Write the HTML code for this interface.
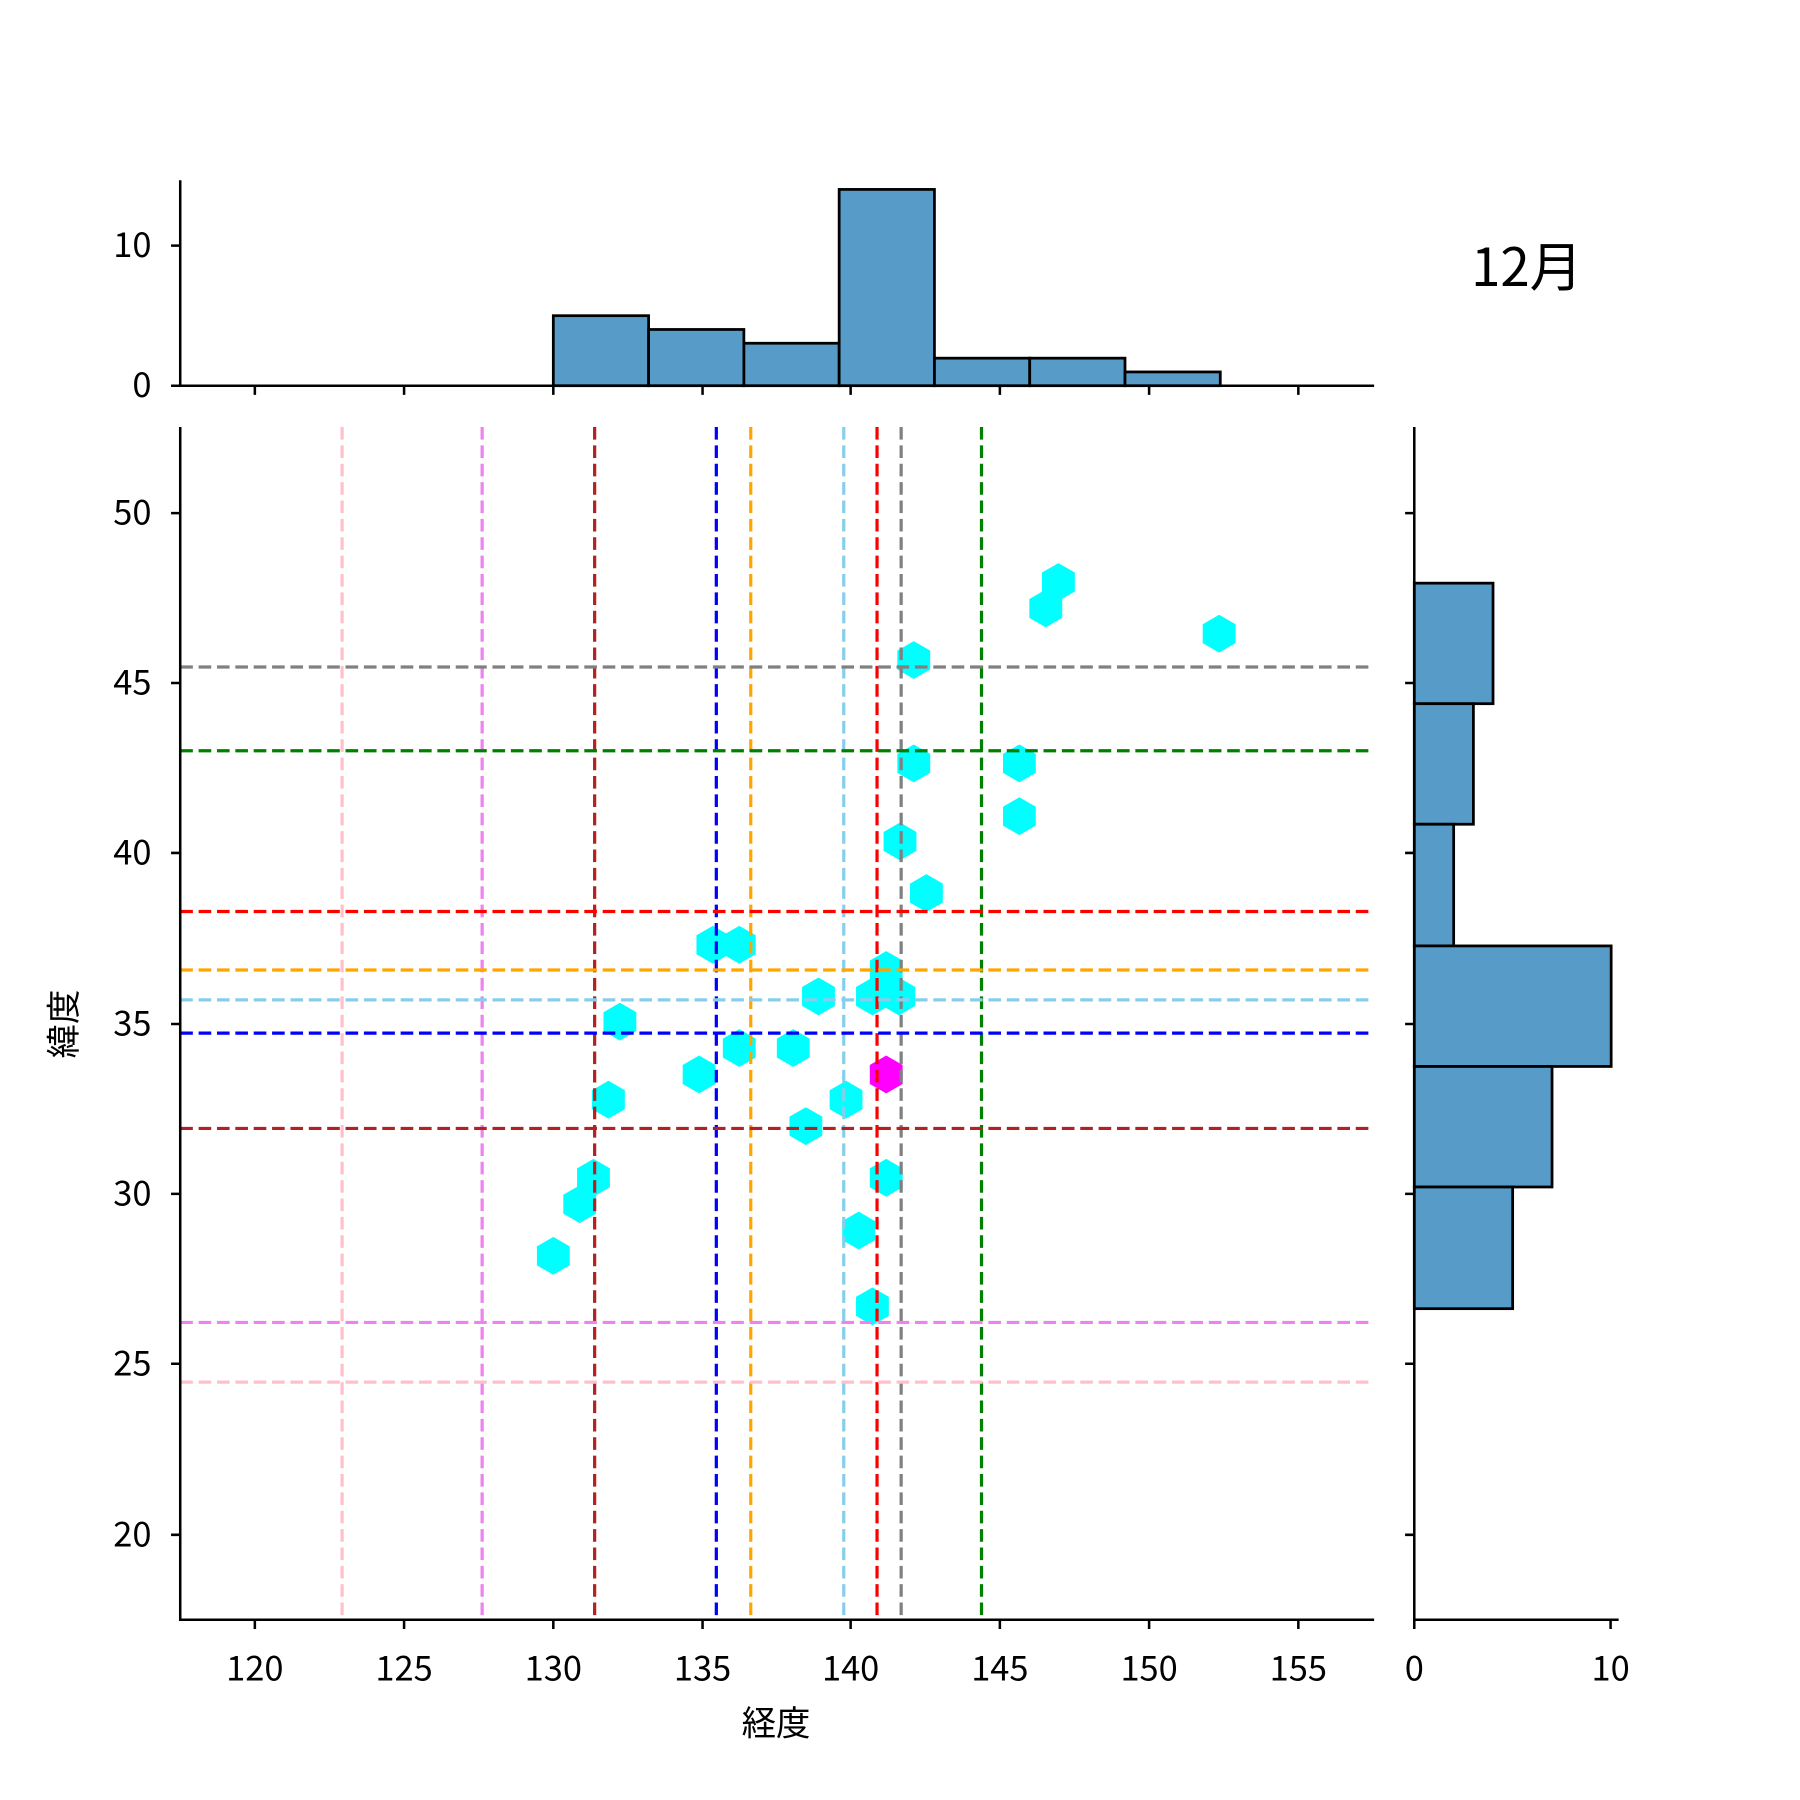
<!DOCTYPE html>
<html><head><meta charset="utf-8"><style>html,body{margin:0;padding:0;background:#fff}svg{display:block}</style></head>
<body>
<svg width="1800" height="1800" viewBox="0 0 1568 1568" xmlns="http://www.w3.org/2000/svg" font-family="Noto Sans CJK JP, Liberation Sans, sans-serif">
<defs>
<polygon id="hx" points="0,-16.5 14.3,-8.25 14.3,8.25 0,16.5 -14.3,8.25 -14.3,-8.25"/>
</defs>
<rect width="1568" height="1568" fill="#fff"/>
<g fill="#579bc8" stroke="#000" stroke-width="2.4">
<rect x="482" y="275" width="83" height="61"/>
<rect x="565" y="287" width="83" height="49"/>
<rect x="648" y="299" width="83" height="37"/>
<rect x="731" y="165" width="83" height="171"/>
<rect x="814" y="312" width="83" height="24"/>
<rect x="897" y="312" width="83" height="24"/>
<rect x="980" y="324" width="83" height="12"/>
</g>
<g fill="#579bc8" stroke="#000" stroke-width="2.4">
<rect x="1232" y="508" width="68.6" height="105"/>
<rect x="1232" y="613" width="51.5" height="105"/>
<rect x="1232" y="718" width="34.3" height="106"/>
<rect x="1232" y="824" width="171.5" height="105"/>
<rect x="1232" y="929" width="120" height="105"/>
<rect x="1232" y="1034" width="85.7" height="106"/>
</g>
<g fill="#00ffff">
<use href="#hx" x="922" y="507"/><use href="#hx" x="911" y="530"/><use href="#hx" x="1062" y="552"/>
<use href="#hx" x="796" y="575"/><use href="#hx" x="796" y="665"/><use href="#hx" x="888" y="665"/>
<use href="#hx" x="888" y="711"/><use href="#hx" x="784" y="733"/><use href="#hx" x="807" y="778"/>
<use href="#hx" x="621" y="823"/><use href="#hx" x="644" y="823"/><use href="#hx" x="713" y="868"/>
<use href="#hx" x="760" y="868"/><use href="#hx" x="772" y="845"/><use href="#hx" x="783" y="868"/>
<use href="#hx" x="540" y="890"/><use href="#hx" x="609" y="936"/><use href="#hx" x="644" y="913"/>
<use href="#hx" x="691" y="913"/><use href="#hx" x="737" y="958"/><use href="#hx" x="530" y="958"/>
<use href="#hx" x="702" y="981"/><use href="#hx" x="517" y="1026"/><use href="#hx" x="505" y="1049"/>
<use href="#hx" x="772" y="1026"/><use href="#hx" x="748" y="1072"/><use href="#hx" x="482" y="1094"/>
<use href="#hx" x="760" y="1138"/>
</g>
<use href="#hx" x="772" y="936" fill="#ff00ff"/>
<g stroke-width="2.8" stroke-dasharray="11,5" fill="none">
<line x1="298" y1="372" x2="298" y2="1411" stroke="pink"/>
<line x1="420" y1="372" x2="420" y2="1411" stroke="violet"/>
<line x1="518" y1="372" x2="518" y2="1411" stroke="firebrick"/>
<line x1="624" y1="372" x2="624" y2="1411" stroke="blue"/>
<line x1="654" y1="372" x2="654" y2="1411" stroke="orange"/>
<line x1="735" y1="372" x2="735" y2="1411" stroke="skyblue"/>
<line x1="764" y1="372" x2="764" y2="1411" stroke="red"/>
<line x1="785" y1="372" x2="785" y2="1411" stroke="gray"/>
<line x1="855" y1="372" x2="855" y2="1411" stroke="green"/>
<line x1="157" y1="581" x2="1197" y2="581" stroke="gray"/>
<line x1="157" y1="654" x2="1197" y2="654" stroke="green"/>
<line x1="157" y1="794" x2="1197" y2="794" stroke="red"/>
<line x1="157" y1="845" x2="1197" y2="845" stroke="orange"/>
<line x1="157" y1="871" x2="1197" y2="871" stroke="skyblue"/>
<line x1="157" y1="900" x2="1197" y2="900" stroke="blue"/>
<line x1="157" y1="983" x2="1197" y2="983" stroke="firebrick"/>
<line x1="157" y1="1152" x2="1197" y2="1152" stroke="violet"/>
<line x1="157" y1="1204" x2="1197" y2="1204" stroke="pink"/>
</g>
<g stroke="#000" stroke-width="2.2" fill="none">
<path d="M157,372 V1411 H1197"/>
<path d="M157,157 V336 H1197"/>
<path d="M1232,372 V1411 H1410"/>
<path d="M222,1411v8M352,1411v8M482,1411v8M612,1411v8M741,1411v8M871,1411v8M1001,1411v8M1131,1411v8"/>
<path d="M222,336v8M352,336v8M482,336v8M612,336v8M741,336v8M871,336v8M1001,336v8M1131,336v8"/>
<path d="M157,447h-8M157,595h-8M157,743h-8M157,892h-8M157,1040h-8M157,1188h-8M157,1337h-8"/>
<path d="M1232,447h-8M1232,595h-8M1232,743h-8M1232,892h-8M1232,1040h-8M1232,1188h-8M1232,1337h-8"/>
<path d="M157,336h-8M157,214h-8"/>
<path d="M1232,1411v8M1403,1411v8"/>
</g>
<g font-size="30" fill="#000" text-anchor="middle">
<text x="222" y="1464">120</text><text x="352" y="1464">125</text><text x="482" y="1464">130</text>
<text x="612" y="1464">135</text><text x="741" y="1464">140</text><text x="871" y="1464">145</text>
<text x="1001" y="1464">150</text><text x="1131" y="1464">155</text>
<text x="1232" y="1464">0</text><text x="1403" y="1464">10</text>
<text x="676" y="1512">経度</text>
</g>
<g font-size="30" fill="#000" text-anchor="end">
<text x="132" y="457">50</text><text x="132" y="605">45</text><text x="132" y="753">40</text>
<text x="132" y="902">35</text><text x="132" y="1050">30</text><text x="132" y="1198">25</text>
<text x="132" y="1347">20</text>
<text x="132" y="346">0</text><text x="132" y="224">10</text>
</g>
<text transform="translate(66,892) rotate(-90)" font-size="30" text-anchor="middle">緯度</text>
<text x="1330" y="249" font-size="46" text-anchor="middle">12月</text>
</svg>
</body></html>
